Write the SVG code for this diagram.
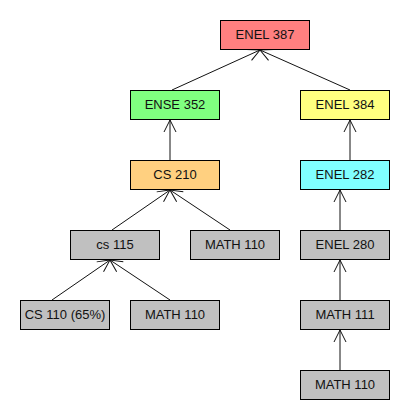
<svg xmlns="http://www.w3.org/2000/svg" width="410" height="420" viewBox="0 0 410 420">
<style>
.box{stroke:#000;stroke-width:1}
.lbl{font-family:"Liberation Sans",Arial,sans-serif;font-size:13px;fill:#111;text-anchor:middle}
.edge{stroke:#111;stroke-width:1;fill:none}
</style>
<defs>
<marker id="arr" markerUnits="userSpaceOnUse" markerWidth="16" markerHeight="16" viewBox="-14 -8 16 16" refX="0" refY="0" orient="auto">
<path d="M-12,-6 L0,0 L-12,6" fill="none" stroke="#111" stroke-width="1"/>
</marker>
</defs>
<rect width="410" height="420" fill="#fff"/>
<g id="connectors">
<line class="edge" x1="172" y1="90" x2="260" y2="50" marker-end="url(#arr)"/>
<line class="edge" x1="350" y1="90" x2="260" y2="50" marker-end="url(#arr)"/>
<line class="edge" x1="170" y1="160" x2="170" y2="120" marker-end="url(#arr)"/>
<line class="edge" x1="350" y1="160" x2="350" y2="120" marker-end="url(#arr)"/>
<line class="edge" x1="112" y1="230" x2="170" y2="190" marker-end="url(#arr)"/>
<line class="edge" x1="230" y1="230" x2="170" y2="190" marker-end="url(#arr)"/>
<line class="edge" x1="340" y1="230" x2="340" y2="190" marker-end="url(#arr)"/>
<line class="edge" x1="52" y1="300" x2="110" y2="260" marker-end="url(#arr)"/>
<line class="edge" x1="170" y1="300" x2="110" y2="260" marker-end="url(#arr)"/>
<line class="edge" x1="340" y1="300" x2="340" y2="260" marker-end="url(#arr)"/>
<line class="edge" x1="340" y1="370" x2="340" y2="330" marker-end="url(#arr)"/>
</g>
<g id="enel387"><rect class="box" x="220.5" y="20.5" width="89" height="29" fill="#FF8080"/><text class="lbl" x="265" y="39">ENEL 387</text></g>
<g id="ense352"><rect class="box" x="130.5" y="90.5" width="89" height="29" fill="#80FF80"/><text class="lbl" x="175" y="109">ENSE 352</text></g>
<g id="enel384"><rect class="box" x="300.5" y="90.5" width="89" height="29" fill="#FFFF80"/><text class="lbl" x="345" y="109">ENEL 384</text></g>
<g id="cs210"><rect class="box" x="130.5" y="160.5" width="89" height="29" fill="#FFD080"/><text class="lbl" x="175" y="179">CS 210</text></g>
<g id="enel282"><rect class="box" x="300.5" y="160.5" width="89" height="29" fill="#80FFFF"/><text class="lbl" x="345" y="179">ENEL 282</text></g>
<g id="cs115"><rect class="box" x="70.5" y="230.5" width="89" height="29" fill="#C0C0C0"/><text class="lbl" x="115" y="249">cs 115</text></g>
<g id="math110a"><rect class="box" x="190.5" y="230.5" width="89" height="29" fill="#C0C0C0"/><text class="lbl" x="235" y="249">MATH 110</text></g>
<g id="enel280"><rect class="box" x="300.5" y="230.5" width="89" height="29" fill="#C0C0C0"/><text class="lbl" x="345" y="249">ENEL 280</text></g>
<g id="cs110"><rect class="box" x="20.5" y="300.5" width="89" height="29" fill="#C0C0C0"/><text class="lbl" x="65" y="319">CS 110 (65%)</text></g>
<g id="math110b"><rect class="box" x="130.5" y="300.5" width="89" height="29" fill="#C0C0C0"/><text class="lbl" x="175" y="319">MATH 110</text></g>
<g id="math111"><rect class="box" x="300.5" y="300.5" width="89" height="29" fill="#C0C0C0"/><text class="lbl" x="345" y="319">MATH 111</text></g>
<g id="math110c"><rect class="box" x="300.5" y="370.5" width="89" height="29" fill="#C0C0C0"/><text class="lbl" x="345" y="389">MATH 110</text></g>
</svg>
